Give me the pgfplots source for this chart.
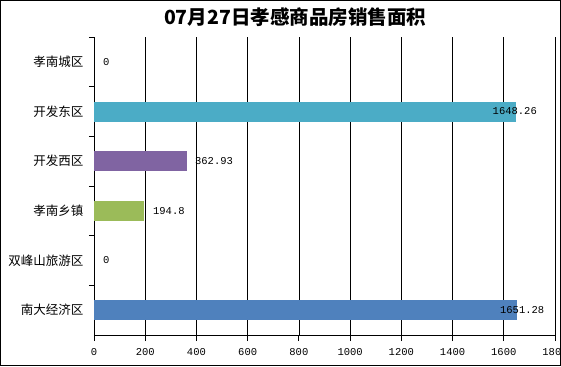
\documentclass[border=0pt]{standalone}
\usepackage{pgfplots}
\pgfplotsset{compat=1.18}
\usepackage{fontspec}
\setmainfont{Liberation Serif}
\newfontfamily\cjk{Noto Sans CJK SC}
\newfontfamily\numfont{Liberation Mono}
\definecolor{cteal}{HTML}{4BACC6}
\definecolor{cpurple}{HTML}{8064A2}
\definecolor{cgreen}{HTML}{9BBB59}
\definecolor{cblue}{HTML}{4F81BD}
\begin{document}
\begin{tikzpicture}[x=1pt,y=1pt]
\path[use as bounding box] (0,0) rectangle (561,366);
\fill[white] (0,0) rectangle (561,366);
\begin{axis}[
  at={(94pt,31pt)}, anchor=south west,
  scale only axis, width=461pt, height=298pt,
  xmin=0, xmax=1800, ymin=-0.5, ymax=5.5,
  y dir=reverse,
  axis x line*=bottom, axis y line*=left,
  axis line style={black, line width=0.8pt, -},
  xtick={0,200,...,1800},
  xmajorgrids, major grid style={black, line width=0.6pt},
  tick align=outside,
  major tick length=6pt,
  minor tick length=5pt,
  x tick style={black, line width=0.8pt},
  ytick={0,1,2,3,4,5},
  yticklabels={孝南城区,开发东区,开发西区,孝南乡镇,双峰山旅游区,南大经济区},
  minor ytick={-0.5,0.5,1.5,2.5,3.5,4.5},
  major y tick style={draw=none},
  minor y tick style={black, line width=0.8pt},
  y tick label style={font=\cjk\fontsize{12.5}{14}\selectfont, xshift=-1pt},
  /pgf/number format/assume math mode=true,
  /pgf/number format/1000 sep={},
  x tick label style={font=\numfont\fontsize{10.5}{12}\selectfont, yshift=-4pt},
  clip=false,
]
\addplot[xbar, bar width=20pt, bar shift=0pt, fill=cteal, draw=none] coordinates {(1648.26,1)};
\addplot[xbar, bar width=20pt, bar shift=0pt, fill=cpurple, draw=none] coordinates {(362.93,2)};
\addplot[xbar, bar width=20pt, bar shift=0pt, fill=cgreen, draw=none] coordinates {(194.8,3)};
\addplot[xbar, bar width=20pt, bar shift=0pt, fill=cblue, draw=none] coordinates {(1651.28,5)};
\addplot[only marks, mark=none, point meta=explicit symbolic,
  nodes near coords, nodes near coords align={anchor=west},
  every node near coord/.style={font=\numfont\fontsize{10.5}{12}\selectfont, inner sep=0pt, anchor=west}]
  coordinates {(35,0)[0] (1556,1)[1648.26] (394,2)[362.93] (230,3)[194.8] (35,4)[0] (1585,5)[1651.28]};
\end{axis}
\node[font=\cjk\bfseries\fontsize{19.5}{22}\selectfont] at (295,349) {07月27日孝感商品房销售面积};
\draw[black, line width=1.2pt] (0.6,0.6) rectangle (560.4,365.4);
\end{tikzpicture}
\end{document}
